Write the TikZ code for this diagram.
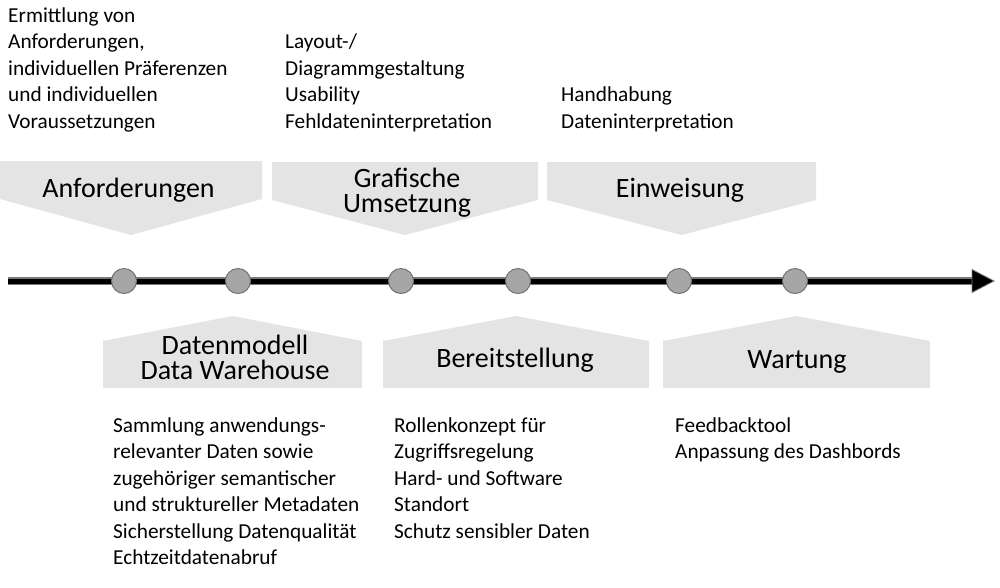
\documentclass[tikz,border=0pt]{standalone}
\usepackage{fontspec}
\setmainfont{Carlito}
\definecolor{stagefill}{RGB}{228,228,228}
\definecolor{dotfill}{RGB}{166,166,166}
\definecolor{dotline}{RGB}{115,115,115}
\definecolor{axisedge}{RGB}{120,120,120}
\newcommand{\myrule}[1]{\rule{0pt}{#1}}
\begin{document}
\begin{tikzpicture}[x=1pt,y=-1pt,
  small/.style={anchor=north west, align=left, inner sep=0pt, font=\fontsize{21.3}{26.5}\selectfont},
  big/.style={anchor=north, align=center, inner sep=0pt, font=\fontsize{28}{25}\selectfont},
  dotnode/.style={circle, fill=dotfill, draw=dotline, line width=1pt, minimum size=25pt, inner sep=0pt},
  stagebox/.style={fill=stagefill}]
\useasboundingbox (0,0) rectangle (1000,587);

% top stages (pointing down)
\fill[stagebox] (0,161) -- (262,161) -- (262,199) -- (131,235) -- (0,199) -- cycle;
\fill[stagebox] (272,162) -- (538,162) -- (538,200) -- (405,235) -- (272,200) -- cycle;
\fill[stagebox] (547,162) -- (816,162) -- (816,200) -- (681.5,235) -- (547,200) -- cycle;

% bottom stages (pointing up)
\fill[stagebox] (103,341) -- (232.5,316) -- (362,341) -- (362,388) -- (103,388) -- cycle;
\fill[stagebox] (383,341) -- (516,316) -- (649,341) -- (649,388) -- (383,388) -- cycle;
\fill[stagebox] (663,341) -- (796.5,316) -- (930,341) -- (930,388) -- (663,388) -- cycle;

% stage labels
\node[big] (anf) at (128.5,173) {\myrule{24pt}Anforderungen};
\node[big] (graf) at (407,163) {\myrule{24pt}Grafische\\Umsetzung};
\node[big] (einw) at (680,173) {\myrule{24pt}Einweisung};
\node[big] (datm) at (235,330) {\myrule{24pt}Datenmodell\\Data Warehouse};
\node[big] (bere) at (515,343) {\myrule{24pt}Bereitstellung};
\node[big] (wart) at (797,344) {\myrule{24pt}Wartung};

% time axis
\coordinate (axs) at (8,281);
\coordinate (axe) at (973,281);
\draw[axisedge, line width=7.5pt] (axs) -- (axe);
\draw[black, line width=5pt] (axs) -- (axe);
\coordinate (tipa) at (972,269.5);
\coordinate (tipb) at (994,281);
\coordinate (tipc) at (972,292.5);
\filldraw[fill=black, draw=axisedge, line width=0.8pt, line join=miter] (tipa) -- (tipb) -- (tipc) -- cycle;

% milestones
\node[dotnode] (c1) at (124,281) {};
\node[dotnode] (c2) at (238,281) {};
\node[dotnode] (c3) at (401,281) {};
\node[dotnode] (c4) at (518,281) {};
\node[dotnode] (c5) at (679,281) {};
\node[dotnode] (c6) at (795,281) {};

% descriptions top
\node[small] (t1) at (8,2) {\myrule{20pt}Ermittlung von\\Anforderungen,\\individuellen Präferenzen\\und individuellen\\Voraussetzungen};
\node[small] (t2) at (285,28.5) {\myrule{20pt}Layout-/\\Diagrammgestaltung\\Usability\\Fehldateninterpretation};
\node[small] (t3) at (561,81.5) {\myrule{20pt}Handhabung\\Dateninterpretation};

% descriptions bottom
\node[small] (b1) at (113,412) {\myrule{20pt}Sammlung anwendungs-\\relevanter Daten sowie\\zugehöriger semantischer\\und struktureller Metadaten\\Sicherstellung Datenqualität\\Echtzeitdatenabruf};
\node[small] (b2) at (394,412) {\myrule{20pt}Rollenkonzept für\\Zugriffsregelung\\Hard- und Software\\Standort\\Schutz sensibler Daten};
\node[small] (b3) at (675,412) {\myrule{20pt}Feedbacktool\\Anpassung des Dashbords};
\end{tikzpicture}
\end{document}
